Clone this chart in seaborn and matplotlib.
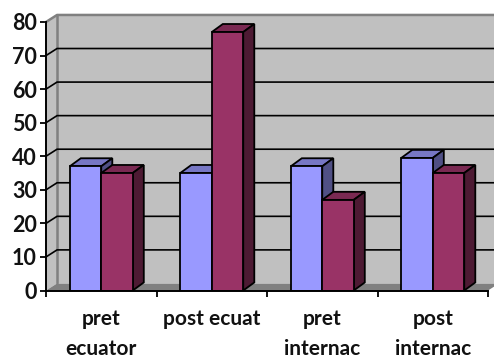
import pandas as pd
import seaborn as sns
import matplotlib.pyplot as plt
from matplotlib.patches import Polygon

categories = ['pret\necuator', 'post ecuat', 'pret\ninternac', 'post\ninternac']
series_a = [37, 35, 37, 39.5]
series_b = [35, 77, 27, 35]
y_ticks = [0, 10, 20, 30, 40, 50, 60, 70, 80]

face_colors = ['#9999FF', '#993366']
top_colors = ['#7777C4', '#7A2952']
side_colors = ['#505085', '#4D1A33']

sns.set_style('white')
plt.rcParams['font.family'] = ['Lato', 'DejaVu Sans']
plt.rcParams['font.weight'] = 'bold'

df = pd.DataFrame({
    'cat': categories * 2,
    'value': series_a + series_b,
    'series': ['a'] * 4 + ['b'] * 4,
})

fig = plt.figure(figsize=(4.94, 3.59), dpi=100)
ax = fig.add_axes([46 / 494, 1 - 290.5 / 359, 442 / 494, 268.5 / 359])
ax.patch.set_alpha(0)

sns.barplot(data=df, x='cat', y='value', hue='series', palette=face_colors,
            width=0.57, gap=0, dodge=True, legend=False, ax=ax,
            edgecolor='black', linewidth=1.3, saturation=1, zorder=4)

ax.set_xlim(-0.5, 3.5)
ax.set_ylim(0, 80)

# depth of the fake 3d box, in data units
wall_dx, wall_dy = 0.1, 2.1
bar_dx, bar_dy = 0.1, 2.4


def poly(pts, fc, ec='none', lw=0, z=1):
    ax.add_patch(Polygon(pts, closed=True, facecolor=fc, edgecolor=ec, linewidth=lw,
                         zorder=z, clip_on=False))


# walls and floor
x0, x1 = -0.5, 3.5
top = y_ticks[-1]
poly([(x0 + wall_dx, wall_dy), (x1 + wall_dx, wall_dy), (x1 + wall_dx, top + wall_dy),
      (x0 + wall_dx, top + wall_dy)], '#C0C0C0')
poly([(x0, 0), (x0 + wall_dx, wall_dy), (x0 + wall_dx, top + wall_dy), (x0, top)], '#C0C0C0')
poly([(x0, 0), (x1, 0), (x1 + wall_dx, wall_dy), (x0 + wall_dx, wall_dy)], '#808080')
ax.plot([x0 + wall_dx, x0 + wall_dx], [wall_dy, top + wall_dy], color='#808080', lw=1.8,
        zorder=2, clip_on=False)
ax.plot([x0, x0 + wall_dx, x1 + wall_dx], [top, top + wall_dy, top + wall_dy], color='#808080',
        lw=1.8, zorder=2, clip_on=False)

# gridlines run along the side wall and the back wall
for t in y_ticks[1:-1]:
    ax.plot([x0, x0 + wall_dx, x1 + wall_dx], [t, t + wall_dy, t + wall_dy], color='black',
            lw=1.2, zorder=2, clip_on=False, solid_joinstyle='miter')

# top and side faces, taken from the bars seaborn drew
for i, cont in enumerate(ax.containers):
    for bar in cont:
        x, y = bar.get_x(), bar.get_height()
        w = bar.get_width()
        z = 3 + i * 2
        bar.set_zorder(z + 1)
        poly([(x, y), (x + bar_dx, y + bar_dy), (x + w + bar_dx, y + bar_dy), (x + w, y)],
             top_colors[i], 'black', 1.3, z)
        poly([(x + w, 0), (x + w + bar_dx, bar_dy), (x + w + bar_dx, y + bar_dy), (x + w, y)],
             side_colors[i], 'black', 1.3, z)

sns.despine(ax=ax)
for s in ['left', 'bottom']:
    ax.spines[s].set_color('black')
    ax.spines[s].set_linewidth(1.4)
    ax.spines[s].set_zorder(8)

ax.set_xlabel('')
ax.set_ylabel('')
ax.set_yticks(y_ticks)
ax.tick_params(axis='y', left=True, length=4, width=1.3, color='black', pad=2.5, labelsize=15.5)
ax.tick_params(axis='x', which='major', bottom=False, length=0, pad=13, labelsize=15)
ax.set_xticks([-0.5, 0.5, 1.5, 2.5, 3.5], minor=True)
ax.tick_params(axis='x', which='minor', bottom=True, length=4, width=1.3, color='black')
for lab in ax.get_xticklabels():
    lab.set_linespacing(1.65)
    lab.set_fontweight('bold')
    lab.set_color('#111111')
    lab.set_verticalalignment('top')
for lab in ax.get_yticklabels():
    lab.set_fontweight('bold')
    lab.set_color('#111111')

fig.savefig('out.png', dpi=100)
